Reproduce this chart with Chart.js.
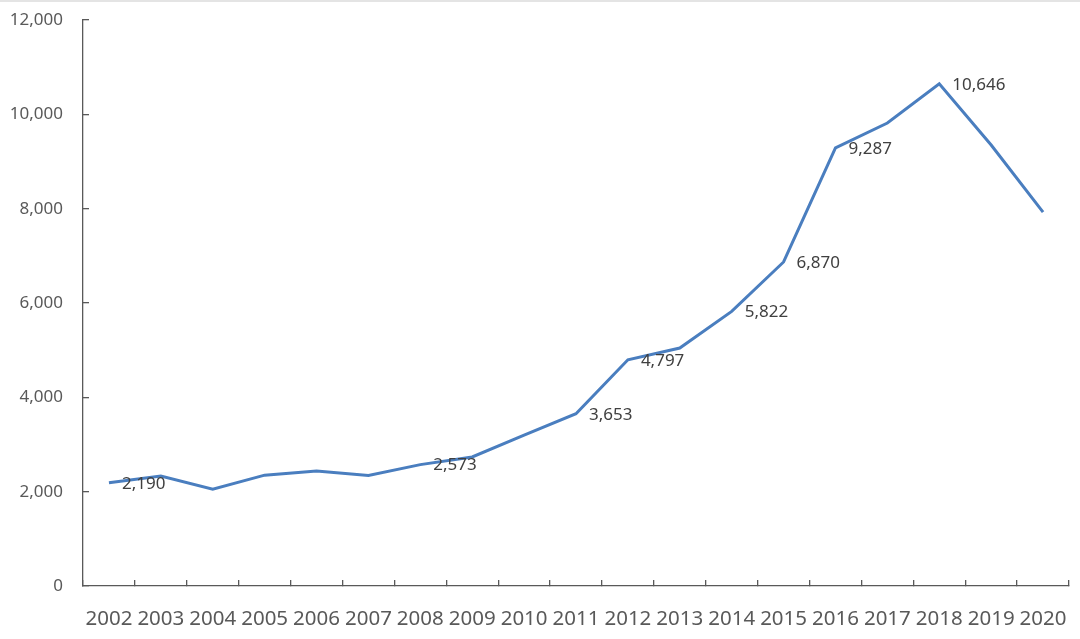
<!DOCTYPE html>
<html>
<head>
<meta charset="utf-8">
<script src="https://cdn.jsdelivr.net/npm/chart.js@4/dist/chart.umd.min.js"></script>
<style>
  html, body { margin: 0; padding: 0; background: #fff; }
  #wrap { position: relative; width: 1080px; height: 639px; }
  #topline { position: absolute; left: 0; top: 0; width: 1080px; height: 2px; background: #e4e4e4; }
</style>
</head>
<body>
<div id="wrap">
  <canvas id="chart" width="1080" height="639"></canvas>
  <div id="topline"></div>
</div>
<script>
// years on the x axis
var years = ['2002', '2003', '2004', '2005', '2006', '2007', '2008', '2009', '2010', '2011',
             '2012', '2013', '2014', '2015', '2016', '2017', '2018', '2019', '2020'];
// values (labelled ones are exact)
var values = [2190, 2330, 2050, 2350, 2440, 2345, 2573, 2735, 3200, 3653,
              4797, 5045, 5822, 6870, 9287, 9815, 10646, 9350, 7925];
// years that carry a value label
var labelledYears = ['2002', '2008', '2011', '2012', '2014', '2015', '2016', '2018'];
// y axis range
var yMin = 0;
var yMax = 12000;
var yStep = 2000;

var fmt = function(v) { return Number(v).toLocaleString('en-US'); };

// draws the value labels to the right of the chosen points
var valueLabels = {
    id: 'valueLabels',
    afterDatasetsDraw: function(chart) {
        var ctx = chart.ctx;
        var meta = chart.getDatasetMeta(0);
        ctx.save();
        ctx.font = '17px "Noto Sans"';
        ctx.fillStyle = '#404040';
        ctx.textAlign = 'left';
        ctx.textBaseline = 'middle';
        for (var i = 0; i < years.length; i++) {
            if (labelledYears.indexOf(years[i]) < 0) continue;
            var pt = meta.data[i];
            ctx.fillText(fmt(values[i]), pt.x + 13, pt.y + 1);
        }
        ctx.restore();
    }
};

var chart = new Chart(document.getElementById('chart'), {
    type: 'line',
    data: {
        labels: years,
        datasets: [{
            data: values,
            borderColor: '#4a7ebf',
            borderWidth: 3,
            pointRadius: 0,
            tension: 0,
            fill: false
        }]
    },
    options: {
        responsive: false,
        animation: false,
        layout: { padding: { left: 0, right: 11, top: 20, bottom: 0 } },
        plugins: {
            legend: { display: false },
            tooltip: { enabled: false }
        },
        scales: {
            x: {
                offset: true,
                grid: {
                    offset: true,
                    drawOnChartArea: false,
                    drawTicks: true,
                    tickLength: -6,
                    color: '#595959',
                    lineWidth: 1.3
                },
                border: { color: '#595959', width: 1.3 },
                ticks: {
                    color: '#595959',
                    font: { family: 'Noto Sans', size: 20.5 },
                    padding: 27,
                    maxRotation: 0,
                    autoSkip: false
                },
                afterFit: function(scale) {
                    scale.height = 53;
                    scale.paddingLeft = 0;
                    scale.paddingRight = 0;
                }
            },
            y: {
                min: yMin,
                max: yMax,
                grid: {
                    drawOnChartArea: false,
                    drawTicks: true,
                    tickLength: -6,
                    color: '#595959',
                    lineWidth: 1.3
                },
                border: { color: '#595959', width: 1.3 },
                ticks: {
                    stepSize: yStep,
                    color: '#595959',
                    font: { family: 'Noto Sans', size: 17 },
                    padding: 26,
                    callback: function(v) { return fmt(v); }
                },
                afterFit: function(scale) {
                    scale.width = 83;
                    scale.paddingTop = 0;
                    scale.paddingBottom = 0;
                }
            }
        }
    },
    plugins: [valueLabels]
});
</script>
</body>
</html>
